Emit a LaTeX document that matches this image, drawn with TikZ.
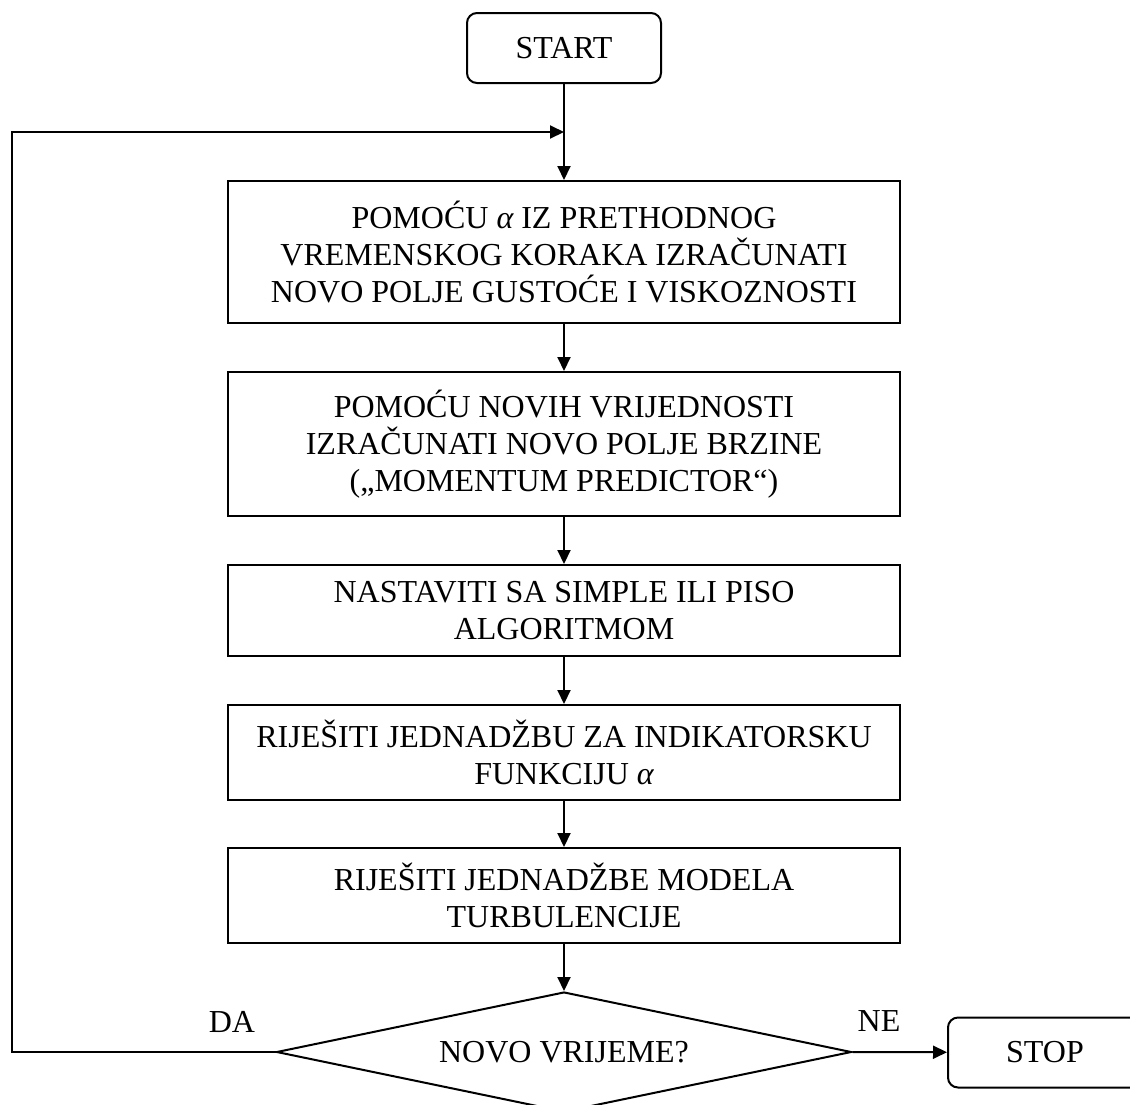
\documentclass[tikz,border=0pt]{standalone}
\usepackage{fontspec}
\setmainfont{Liberation Serif}
\usetikzlibrary{arrows.meta,shapes.geometric}
\begin{document}
\begin{tikzpicture}[x=1pt,y=-1pt,line width=2pt,
  every node/.style={font=\fontsize{32}{36.8}\selectfont},
  procbox/.style={draw,minimum width=672pt,align=center,inner sep=0pt},
  termbox/.style={draw,rounded corners=10pt,minimum width=194pt,minimum height=70pt,inner sep=0pt},
  decbox/.style={draw,shape=diamond,aspect=4.79,minimum width=575pt,minimum height=120pt,inner sep=0pt},
  arr/.style={-{Triangle[length=14pt,width=13pt]}}]
\useasboundingbox (0,0) rectangle (1130,1104);

\node[termbox] (start) at (564,48) {START};
\node[procbox,minimum height=142pt] (b1) at (564,252)
  {POMOĆU {\itshape α} IZ PRETHODNOG\\VREMENSKOG KORAKA IZRAČUNATI\\NOVO POLJE GUSTOĆE I VISKOZNOSTI};
\node[procbox,minimum height=144pt] (b2) at (564,444)
  {POMOĆU NOVIH VRIJEDNOSTI\\IZRAČUNATI NOVO POLJE BRZINE\\(„MOMENTUM PREDICTOR“)};
\node[procbox,minimum height=91pt] (b3) at (564,610.5)
  {NASTAVITI SA SIMPLE ILI PISO\\ALGORITMOM};
\node[procbox,minimum height=95pt] (b4) at (564,752.5)
  {RIJEŠITI JEDNADŽBU ZA INDIKATORSKU\\FUNKCIJU {\itshape α}};
\node[procbox,minimum height=95pt] (b5) at (564,895.5)
  {RIJEŠITI JEDNADŽBE MODELA\\TURBULENCIJE};
\node[decbox] (dec) at (564,1052) {NOVO VRIJEME?};
\node[termbox] (stop) at (1045,1052.5) {STOP};

\node (da) at (232,1022) {DA};
\node (ne) at (879,1021) {NE};

\coordinate (c1) at (12,1052);
\coordinate (c2) at (12,132);
\coordinate (j) at (564,132);

\draw[arr] (start) -- (b1);
\draw[arr] (b1) -- (b2);
\draw[arr] (b2) -- (b3);
\draw[arr] (b3) -- (b4);
\draw[arr] (b4) -- (b5);
\draw[arr] (b5) -- (dec);
\draw[arr] (dec.east) -- (stop);
\draw[arr] (dec.west) -- (c1) -- (c2) -- (j);
\end{tikzpicture}
\end{document}
